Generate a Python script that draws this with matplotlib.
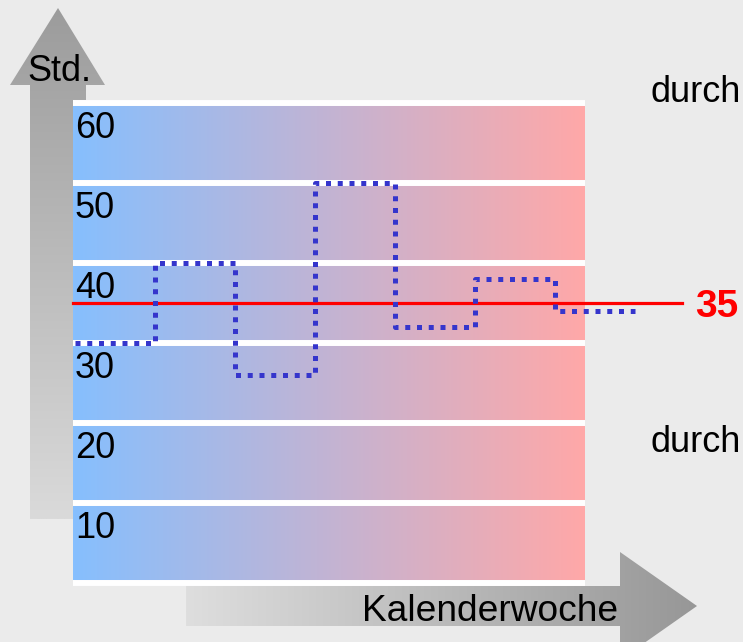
import numpy as np
import matplotlib
matplotlib.use("Agg")
import matplotlib.pyplot as plt
from matplotlib.patches import Polygon
from matplotlib.colors import LinearSegmentedColormap

plt.rcParams['font.family'] = ['Liberation Sans', 'DejaVu Sans']

# data
weeks = [0, 1, 2, 3, 4, 5, 6, 7]          # week edges
hours = [30, 40, 26, 50, 32, 38, 34]      # hours per week
levels = [0, 10, 20, 30, 40, 50, 60]      # white grid lines
labels = ["10", "20", "30", "40", "50", "60"]
target = 35

W, H = 743, 642
fig = plt.figure(figsize=(W / 100, H / 100), dpi=100, facecolor='#ebebeb')

# background layer in pixel coordinates for the arrows
bg = fig.add_axes([0, 0, 1, 1])
bg.axis('off')


def grad_arrow(pts, c0, c1, horizontal, extent):
    poly = Polygon(pts, closed=True, facecolor='none', edgecolor='none')
    bg.add_patch(poly)
    g = np.linspace(0, 1, 256)
    arr = g[None, :] if horizontal else g[:, None]
    cmap = LinearSegmentedColormap.from_list('g', [c0, c1])
    im = bg.imshow(arr, cmap=cmap, extent=extent, aspect='auto',
                   origin='upper', zorder=1)
    im.set_clip_path(poly)


# vertical arrow (dark at top)
grad_arrow([(30, 519), (30, 85), (10, 85), (58, 8), (105, 85), (86, 85), (86, 519)],
           '#9c9c9c', '#dadada', False, (10, 105, 519, 8))
# horizontal arrow (dark at right)
grad_arrow([(186, 586), (620, 586), (620, 552), (697, 606), (620, 660), (620, 626), (186, 626)],
           '#dedede', '#979797', True, (186, 697, 660, 552))

bg.set_xlim(0, W)
bg.set_ylim(H, 0)

bg.text(27, 81, "Std.", fontsize=26, va='baseline', ha='left', zorder=3)
bg.text(618, 621, "Kalenderwoche", fontsize=26.7, va='baseline', ha='right', zorder=3)
bg.text(650, 102, "durch", fontsize=26, va='baseline', ha='left', zorder=3)
bg.text(650, 452, "durch", fontsize=26, va='baseline', ha='left', zorder=3)

# main plot area
left, right, top, bottom = 73, 585, 100, 586
ax = fig.add_axes([left / W, (H - bottom) / H, (right - left) / W, (bottom - top) / H])
ax.set_facecolor('none')
for s in ax.spines.values():
    s.set_visible(False)
ax.set_xticks([])
ax.set_yticks([])

xlim = (-0.025, 6.375)
ylim = (-0.375, 60.375)

grad = np.linspace(0, 1, 256)[None, :]
cmap = LinearSegmentedColormap.from_list('bg', ['#86bffe', '#ffa8a8'])
ax.imshow(grad, cmap=cmap, extent=(xlim[0], xlim[1], ylim[0], ylim[1]),
          aspect='auto', origin='lower', zorder=0)

for v in levels:
    ax.axhline(v, color='white', lw=4.3, zorder=1)

for v, t in zip(levels[1:], labels):
    ax.text(0.0, v - 4.4, t, fontsize=26, va='baseline', ha='left', zorder=2)

ax.plot([xlim[0], 7.59], [target, target], color='red', lw=2.3,
        clip_on=False, zorder=3)

ax.plot(weeks, hours + [hours[-1]], drawstyle='steps-post', color='#3535cc',
        lw=3.6, linestyle=(0, (1, 1.35)), dash_capstyle='butt',
        clip_on=False, zorder=4)

ax.set_xlim(*xlim)
ax.set_ylim(*ylim)

bg.text(695, 317, str(target), fontsize=28, fontweight='bold', color='red',
        va='baseline', ha='left', zorder=3)

fig.savefig('out.png', dpi=100, facecolor=fig.get_facecolor())
